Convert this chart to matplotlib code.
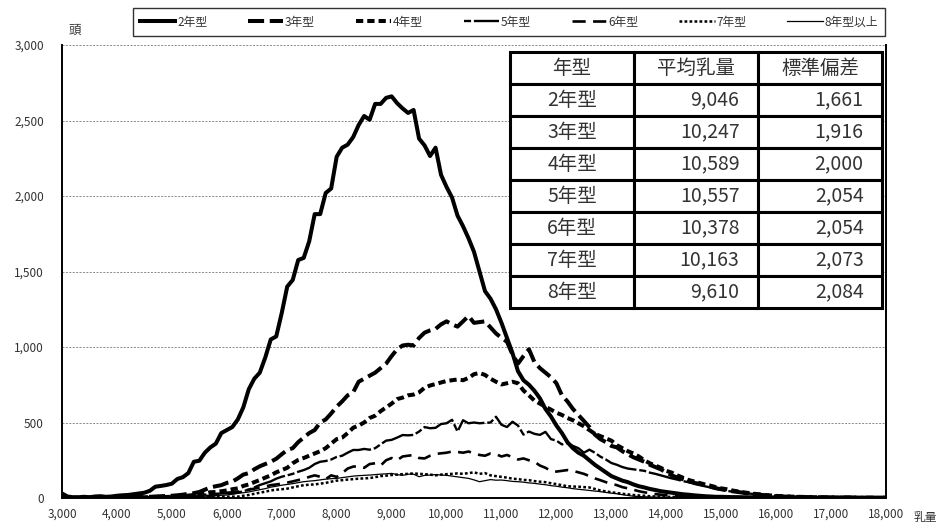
import numpy as np
import matplotlib
matplotlib.use("Agg")
import matplotlib.pyplot as plt

plt.rcParams['font.family'] = ['Noto Sans CJK JP', 'DejaVu Sans']

### data ###
x = np.arange(3000, 18001, 100)   # 乳量 (kg), 100 kg bins

y2 = [30, 10, 5, 5, 8, 5, 10, 12, 8, 10,
      15, 18, 20, 25, 30, 35, 48, 75, 80, 86,
      95, 126, 138, 165, 240, 247, 300, 335, 360, 430,
      450, 470, 520, 600, 720, 790, 830, 930, 1050, 1070,
      1225, 1400, 1444, 1576, 1590, 1700, 1880, 1880, 2020, 2050,
      2260, 2320, 2340, 2390, 2470, 2530, 2505, 2610, 2610, 2650,
      2660, 2615, 2580, 2550, 2570, 2380, 2335, 2265, 2320, 2140,
      2060, 1990, 1870, 1800, 1720, 1630, 1500, 1370, 1320, 1250,
      1160, 1060, 960, 840, 780, 750, 710, 660, 590, 540,
      480, 430, 370, 330, 300, 280, 250, 220, 195, 170,
      145, 130, 115, 105, 90, 78, 70, 60, 53, 45,
      40, 35, 30, 25, 22, 18, 15, 12, 10, 8,
      8, 7, 6, 6, 5, 5, 5, 4, 4, 4,
      4, 3, 3, 3, 3, 3, 2, 2, 2, 2,
      2, 2, 2, 2, 2, 1, 1, 1, 1, 1,
      1]
y3 = [3, 2, 2, 2, 3, 3, 3, 4, 4, 5,
      5, 5, 6, 6, 7, 8, 8, 10, 12, 13,
      15, 18, 22, 28, 32, 40, 55, 70, 78, 85,
      100, 108, 130, 155, 165, 190, 210, 225, 240, 260,
      290, 318, 330, 370, 400, 430, 450, 500, 520, 560,
      605, 640, 680, 700, 770, 790, 810, 830, 860, 890,
      940, 985, 1010, 1015, 1010, 1060, 1095, 1110, 1120, 1150,
      1170, 1150, 1135, 1170, 1205, 1160, 1165, 1170, 1130, 1090,
      1060, 1035, 950, 890, 940, 985, 900, 860, 830, 800,
      760, 680, 640, 590, 550, 510, 470, 420, 390, 370,
      345, 335, 310, 290, 270, 255, 240, 220, 205, 190,
      170, 150, 135, 125, 112, 100, 95, 85, 75, 65,
      58, 52, 45, 40, 35, 30, 26, 22, 18, 15,
      12, 10, 9, 8, 7, 6, 6, 5, 5, 4,
      4, 4, 3, 3, 3, 3, 2, 2, 2, 2,
      2]
y4 = [1, 1, 1, 1, 2, 2, 2, 2, 3, 3,
      3, 3, 4, 4, 5, 5, 6, 6, 7, 7,
      8, 10, 12, 16, 20, 25, 30, 38, 40, 45,
      50, 58, 64, 80, 90, 105, 119, 135, 150, 170,
      185, 200, 230, 252, 265, 280, 295, 310, 330, 360,
      390, 400, 430, 465, 480, 500, 530, 545, 575, 600,
      625, 655, 665, 680, 685, 700, 730, 745, 755, 765,
      775, 780, 785, 780, 795, 820, 828, 815, 790, 770,
      752, 760, 770, 760, 712, 680, 645, 625, 605, 585,
      565, 550, 530, 515, 495, 475, 450, 425, 410, 395,
      380, 350, 330, 310, 295, 275, 250, 230, 215, 200,
      180, 168, 150, 135, 120, 110, 100, 90, 82, 72,
      64, 58, 50, 44, 38, 33, 28, 24, 20, 17,
      14, 12, 10, 9, 8, 7, 6, 5, 5, 4,
      4, 3, 3, 3, 3, 2, 2, 2, 2, 2,
      2]
y5 = [1, 1, 1, 1, 1, 1, 2, 2, 2, 2,
      2, 3, 3, 3, 4, 4, 5, 5, 6, 7,
      8, 10, 12, 13, 15, 18, 22, 26, 28, 30,
      32, 30, 35, 45, 55, 70, 86, 98, 110, 128,
      141, 150, 160, 174, 185, 200, 225, 240, 245, 255,
      272, 280, 300, 318, 318, 325, 320, 330, 355, 380,
      385, 400, 417, 415, 418, 440, 470, 462, 465, 490,
      495, 518, 440, 515, 495, 500, 495, 498, 500, 538,
      485, 470, 505, 480, 420, 440, 425, 418, 438, 390,
      380, 355, 365, 345, 330, 300, 320, 300, 274, 255,
      232, 220, 205, 195, 190, 185, 180, 168, 160, 150,
      140, 130, 122, 112, 105, 95, 86, 78, 70, 62,
      55, 48, 42, 38, 34, 30, 26, 22, 19, 16,
      14, 12, 10, 9, 8, 7, 6, 5, 5, 4,
      4, 3, 3, 3, 3, 2, 2, 2, 2, 2,
      2]
y6 = [0, 0, 0, 0, 1, 1, 1, 1, 1, 1,
      2, 2, 2, 3, 3, 3, 4, 4, 5, 6,
      6, 7, 8, 9, 10, 10, 12, 15, 20, 28,
      35, 38, 42, 48, 55, 62, 70, 76, 85, 90,
      95, 102, 110, 119, 125, 140, 150, 141, 125, 150,
      140, 165, 195, 208, 210, 200, 225, 230, 215, 250,
      265, 250, 275, 280, 285, 265, 262, 280, 292, 296,
      300, 308, 305, 300, 308, 295, 285, 280, 295, 290,
      275, 285, 270, 255, 262, 250, 240, 215, 200, 180,
      175, 180, 185, 180, 170, 160, 145, 130, 118, 105,
      95, 85, 72, 64, 55, 45, 38, 31, 26, 22,
      18, 15, 13, 11, 10, 9, 8, 7, 6, 6,
      5, 5, 4, 4, 4, 3, 3, 3, 3, 2,
      2, 2, 2, 2, 2, 1, 1, 1, 1, 1,
      1, 1, 1, 1, 1, 1, 1, 1, 1, 1,
      1]
y7 = [0, 0, 0, 0, 0, 0, 0, 1, 1, 1,
      1, 1, 1, 1, 1, 2, 2, 2, 2, 3,
      3, 3, 4, 4, 5, 5, 6, 6, 7, 8,
      8, 9, 9, 15, 20, 28, 35, 42, 50, 55,
      58, 62, 70, 78, 85, 88, 90, 95, 100, 108,
      115, 118, 122, 125, 128, 130, 132, 138, 145, 148,
      152, 155, 158, 160, 163, 160, 158, 155, 150, 155,
      158, 160, 163, 160, 165, 170, 160, 165, 150, 145,
      140, 135, 128, 125, 120, 118, 112, 108, 105, 98,
      92, 85, 78, 76, 75, 72, 70, 60, 50, 44,
      38, 33, 28, 24, 20, 17, 15, 12, 10, 9,
      8, 7, 6, 5, 5, 4, 4, 3, 3, 3,
      2, 2, 2, 2, 2, 2, 1, 1, 1, 1,
      1, 1, 1, 1, 1, 1, 1, 1, 1, 1,
      1, 1, 1, 1, 1, 1, 1, 1, 1, 1,
      1]
y8 = [0, 0, 0, 0, 0, 0, 1, 1, 1, 1,
      1, 1, 2, 2, 2, 3, 3, 3, 4, 4,
      5, 5, 6, 7, 8, 10, 12, 14, 16, 18,
      20, 25, 31, 35, 40, 48, 55, 62, 72, 78,
      85, 90, 95, 102, 108, 112, 115, 120, 125, 128,
      130, 135, 140, 145, 148, 150, 152, 155, 158, 160,
      163, 155, 150, 158, 158, 141, 150, 152, 155, 152,
      150, 145, 140, 135, 130, 120, 108, 115, 122, 118,
      119, 115, 110, 108, 105, 100, 97, 92, 88, 82,
      78, 72, 68, 62, 58, 54, 50, 46, 42, 37,
      32, 28, 22, 17, 12, 10, 8, 7, 6, 5,
      4, 4, 3, 3, 3, 2, 2, 2, 2, 2,
      1, 1, 1, 1, 1, 1, 1, 1, 1, 1,
      1, 1, 1, 1, 1, 1, 1, 1, 1, 1,
      1, 1, 1, 1, 1, 1, 1, 1, 1, 1,
      1]

labels = ['2年型', '3年型', '4年型', '5年型', '6年型', '7年型', '8年型以上']

# summary table
tbl_types = ['2年型', '3年型', '4年型', '5年型', '6年型', '7年型', '8年型']
tbl_mean = [9046, 10247, 10589, 10557, 10378, 10163, 9610]
tbl_sd = [1661, 1916, 2000, 2054, 2054, 2073, 2084]


### main ###
def main():
    fig = plt.figure(figsize=(9.42, 5.24), dpi=100)
    ax = fig.add_axes([0.0658, 0.0496, 0.8748, 0.8645])

    series = [y2, y3, y4, y5, y6, y7, y8]
    styles = [
        dict(lw=2.9, ls='-'),
        dict(lw=2.9, ls=(0, (4.0, 1.4))),
        dict(lw=2.9, ls=(0, (1.8, 1.0))),
        dict(lw=1.7, ls=(0, (3, 1.2, 14, 1.2))),
        dict(lw=1.9, ls=(0, (5, 2.8))),
        dict(lw=1.8, ls=(0, (1.1, 0.9))),
        dict(lw=0.9, ls='-'),
    ]
    for y, lab, st in zip(series, labels, styles):
        ax.plot(x, y, color='black', label=lab, solid_joinstyle='round',
                dash_capstyle='butt', **st)

    ax.set_xlim(3000, 18000)
    ax.set_ylim(0, 3000)
    ax.set_xticks(np.arange(3000, 18001, 1000))
    ax.set_yticks(np.arange(0, 3001, 500))
    ax.xaxis.set_major_formatter(matplotlib.ticker.StrMethodFormatter('{x:,.0f}'))
    ax.yaxis.set_major_formatter(matplotlib.ticker.StrMethodFormatter('{x:,.0f}'))
    ax.tick_params(axis='both', length=0, labelsize=8.5, colors='#333333')
    ax.tick_params(axis='y', pad=13)
    ax.tick_params(axis='x', pad=7)
    ax.grid(axis='y', color='#888888', ls=(0, (2, 1.5)), lw=0.7)
    ax.set_axisbelow(True)
    for s in ['left', 'bottom', 'right']:
        ax.spines[s].set_color('black')
        ax.spines[s].set_linewidth(1.4)
    ax.spines['top'].set_visible(False)

    fig.text(0.0796, 0.943, '頭', fontsize=9, color='#333333', ha='center', va='center')
    fig.text(0.982, 0.013, '乳量', fontsize=8.5, color='#333333', ha='center', va='center')

    leg = fig.legend(loc='center', ncol=7, mode='expand',
                     bbox_to_anchor=(0.1348, 0.9313, 0.811, 0.0534),
                     fontsize=8.5, handlelength=3.0, handletextpad=0.15,
                     fancybox=False, edgecolor='black', borderpad=0.6,
                     columnspacing=1.0)
    leg.get_frame().set_linewidth(1.0)
    for t in leg.get_texts():
        t.set_color('#333333')

    cell_text = [['年型', '平均乳量', '標準偏差']]
    for t, m, s in zip(tbl_types, tbl_mean, tbl_sd):
        cell_text.append([t, f'{m:,}', f'{s:,}'])
    tb = ax.table(cellText=cell_text, cellLoc='right',
                  bbox=[0.5437, 0.4194, 0.4515, 0.5651])
    tb.set_zorder(5)
    tb.auto_set_font_size(False)
    for (r, c), cell in tb.get_celld().items():
        cell.set_linewidth(2.2)
        cell.set_edgecolor('black')
        cell.set_facecolor('white')
        cell.get_text().set_fontsize(14)
        cell.get_text().set_color('#333333')
        cell.PAD = 0.15
        if r == 0 or c == 0:
            cell._loc = 'center'
            cell.get_text().set_ha('center')

    fig.savefig('out.png', dpi=100)


if __name__ == '__main__':
    main()
